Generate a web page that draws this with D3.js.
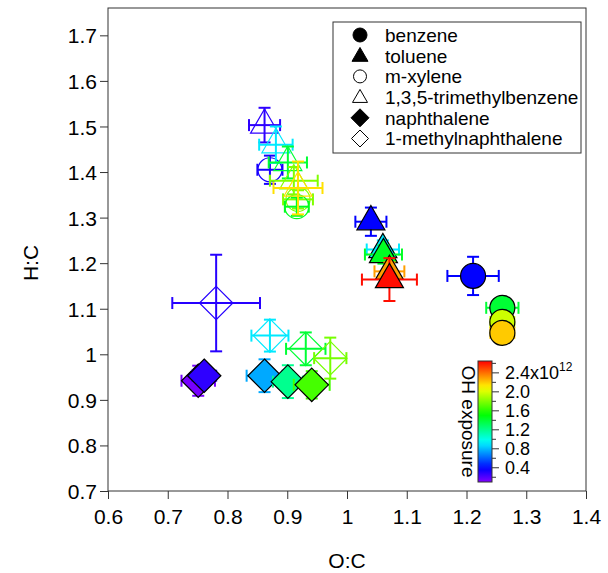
<!DOCTYPE html>
<html>
<head>
<meta charset="utf-8">
<script src="https://cdn.jsdelivr.net/npm/d3@7"></script>
<style>
  body { margin: 0; background: #fff; }
  text { font-family: "Liberation Sans", Arial, sans-serif; fill: #000; }
</style>
</head>
<body>
<div id="chart"></div>
<script>
// values: O:C, H:C, error (+/-), OH exposure (x10^12)
const benzOC = [1.211, 1.260, 1.260, 1.260];
const benzHC = [1.172, 1.102, 1.071, 1.047];
const benzXe = [0.043, 0.027, 0.02, 0.02];
const benzYe = [0.042, 0.01, 0.01, 0.01];
const benzOH = [0.38, 1.4, 1.97, 2.2];

const tolOC = [1.040, 1.060, 1.061, 1.071, 1.071];
const tolHC = [1.291, 1.230, 1.219, 1.182, 1.164];
const tolXe = [0.026, 0.027, 0.031, 0.025, 0.046];
const tolYe = [0.031, 0.02, 0.02, 0.02, 0.047];
const tolOH = [0.38, 0.9, 1.44, 2.3, 2.62];

const xylOC = [0.871, 0.918, 0.916];
const xylHC = [1.405, 1.340, 1.324];
const xylXe = [0.021, 0.025, 0.02];
const xylYe = [0.031, 0.02, 0.02];
const xylOH = [0.33, 1.8, 1.45];

const tmbOC = [0.862, 0.881, 0.901, 0.911, 0.918];
const tmbHC = [1.503, 1.460, 1.421, 1.381, 1.365];
const tmbXe = [0.026, 0.028, 0.032, 0.04, 0.041];
const tmbYe = [0.038, 0.04, 0.035, 0.03, 0.058];
const tmbOH = [0.28, 0.9, 1.4, 1.8, 2.15];

const naphOC = [0.751, 0.761, 0.862, 0.901, 0.941];
const naphHC = [0.942, 0.953, 0.953, 0.940, 0.933];
const naphXe = [0.028, 0.02, 0.03, 0.025, 0.03];
const naphYe = [0.033, 0.02, 0.036, 0.036, 0.03];
const naphOH = [0.12, 0.28, 0.76, 1.2, 1.67];

const mnOC = [0.781, 0.871, 0.931, 0.972];
const mnHC = [1.1125, 1.041, 1.012, 0.9916];
const mnXe = [0.0734, 0.031, 0.033, 0.027];
const mnYe = [0.106, 0.035, 0.036, 0.045];
const mnOH = [0.3, 0.9, 1.4, 1.78];

const xTicks = [0.6, 0.7, 0.8, 0.9, 1, 1.1, 1.2, 1.3, 1.4];
const yTicks = [0.7, 0.8, 0.9, 1, 1.1, 1.2, 1.3, 1.4, 1.5, 1.6, 1.7];
const cbMajor = [0.4, 0.8, 1.2, 1.6, 2.0, 2.4];
const cbMinor = [0.2, 0.6, 1.0, 1.4, 1.8, 2.2, 2.6];
const legendNames = ["benzene", "toluene", "m-xylene", "1,3,5-trimethylbenzene", "naphthalene", "1-methylnaphthalene"];

const width = 608, height = 573;
let plot = {left: 108, right: 586, top: 8, bottom: 491};

let svg = d3.select("#chart").append("svg")
    .attr("width", width)
    .attr("height", height);

let x = d3.scaleLinear().domain([0.6, 1.4]).range([plot.left, plot.right]);
let y = d3.scaleLinear().domain([0.7, 1.76]).range([plot.bottom, plot.top]);

// rainbow colour table, purple at low exposure to red at high
let hue = d3.scaleLinear().domain([0.1, 2.65]).range([270, 0]);
let color = v => d3.hsl(hue(v), 1, 0.5).formatHex();

function diamond(h) {
    return `M0,${-h}L${h},0L0,${h}L${-h},0Z`;
}
let shapes = {
    circle: s => d3.symbol(d3.symbolCircle, Math.PI * s * s)(),
    triangle: s => d3.symbol(d3.symbolTriangle, Math.sqrt(3) / 4 * s * s)(),
    diamond: s => diamond(s)
};

let series = [
    {oc: benzOC, hc: benzHC, xe: benzXe, ye: benzYe, oh: benzOH, shape: "circle", size: 12.5, filled: true},
    {oc: tolOC, hc: tolHC, xe: tolXe, ye: tolYe, oh: tolOH, shape: "triangle", size: 28, filled: true},
    {oc: xylOC, hc: xylHC, xe: xylXe, ye: xylYe, oh: xylOH, shape: "circle", size: 12, filled: false},
    {oc: tmbOC, hc: tmbHC, xe: tmbXe, ye: tmbYe, oh: tmbOH, shape: "triangle", size: 28, filled: false},
    {oc: naphOC, hc: naphHC, xe: naphXe, ye: naphYe, oh: naphOH, shape: "diamond", size: 16.7, filled: true},
    {oc: mnOC, hc: mnHC, xe: mnXe, ye: mnYe, oh: mnOH, shape: "diamond", size: 16.7, filled: false}
];

let marks = svg.append("g").attr("class", "marks");
let cap = 6;

series.forEach(function(s) {
    s.oc.forEach(function(oc, i) {
        let c = color(s.oh[i]);
        let cx = x(oc), cy = y(s.hc[i]);
        let g = marks.append("g");
        let x0 = x(oc - s.xe[i]), x1 = x(oc + s.xe[i]);
        let y0 = y(s.hc[i] - s.ye[i]), y1 = y(s.hc[i] + s.ye[i]);
        let bars = [
            [x0, cy, x1, cy], [cx, y0, cx, y1],
            [x0, cy - cap, x0, cy + cap], [x1, cy - cap, x1, cy + cap],
            [cx - cap, y0, cx + cap, y0], [cx - cap, y1, cx + cap, y1]
        ];
        g.selectAll("line").data(bars).enter().append("line")
            .attr("x1", d => d[0]).attr("y1", d => d[1])
            .attr("x2", d => d[2]).attr("y2", d => d[3])
            .attr("stroke", c)
            .attr("stroke-width", 2);
        g.append("path")
            .attr("d", shapes[s.shape](s.size))
            .attr("transform", `translate(${cx},${cy})`)
            .attr("fill", s.filled ? c : "none")
            .attr("stroke", s.filled ? "#000" : c)
            .attr("stroke-width", 1.2);
    });
});

// frame and axes
svg.append("rect")
    .attr("x", plot.left).attr("y", plot.top)
    .attr("width", plot.right - plot.left)
    .attr("height", plot.bottom - plot.top)
    .attr("fill", "none")
    .attr("stroke", "#333");

let fmt = d => d === 1 ? "1" : d3.format(".1f")(d);

let xAxis = svg.append("g")
    .attr("transform", `translate(0,${plot.bottom})`)
    .call(d3.axisBottom(x).tickValues(xTicks).tickSize(8).tickFormat(fmt));
let yAxis = svg.append("g")
    .attr("transform", `translate(${plot.left},0)`)
    .call(d3.axisLeft(y).tickValues(yTicks).tickSize(8).tickFormat(fmt));

[xAxis, yAxis].forEach(function(a) {
    a.select(".domain").remove();
    a.selectAll(".tick line").attr("stroke", "#333");
    a.selectAll(".tick text")
        .style("font-family", '"Liberation Sans", Arial, sans-serif')
        .style("font-size", "21px")
        .attr("fill", "#000");
});
xAxis.selectAll(".tick text").attr("dy", "1.05em");
yAxis.selectAll(".tick text").attr("x", -11).attr("dy", "0.36em");

svg.append("text")
    .attr("x", (plot.left + plot.right) / 2)
    .attr("y", 568)
    .attr("text-anchor", "middle")
    .style("font-size", "21px")
    .text("O:C");

svg.append("text")
    .attr("transform", "translate(38,263) rotate(-90)")
    .attr("text-anchor", "middle")
    .style("font-size", "21px")
    .text("H:C");

// legend
let leg = svg.append("g");
leg.append("rect")
    .attr("x", 333).attr("y", 22)
    .attr("width", 248).attr("height", 131)
    .attr("fill", "#fff")
    .attr("stroke", "#333");

let legShapes = [
    {shape: "circle", size: 7, filled: true},
    {shape: "triangle", size: 16, filled: true},
    {shape: "circle", size: 6.5, filled: false},
    {shape: "triangle", size: 15, filled: false},
    {shape: "diamond", size: 9, filled: true},
    {shape: "diamond", size: 8.5, filled: false}
];

legendNames.forEach(function(name, i) {
    let ly = 35 + i * 20.7;
    let s = legShapes[i];
    leg.append("path")
        .attr("d", shapes[s.shape](s.size))
        .attr("transform", `translate(360,${ly + (s.shape === "triangle" ? 1 : 0)})`)
        .attr("fill", s.filled ? "#000" : "#fff")
        .attr("stroke", "#000")
        .attr("stroke-width", 1);
    leg.append("text")
        .attr("x", 385)
        .attr("y", ly)
        .attr("dy", "0.36em")
        .style("font-size", "19px")
        .text(name);
});

// colour scale bar
let cb = {x: 478, w: 14, top: 361, bottom: 482};
let cbScale = d3.scaleLinear().domain([0.1, 2.65]).range([cb.bottom, cb.top]);

let grad = svg.append("defs").append("linearGradient")
    .attr("id", "rainbow")
    .attr("x1", 0).attr("y1", 1)
    .attr("x2", 0).attr("y2", 0);
d3.range(0, 1.0001, 0.05).forEach(function(t) {
    grad.append("stop")
        .attr("offset", t)
        .attr("stop-color", color(0.1 + t * 2.55));
});

svg.append("rect")
    .attr("x", cb.x).attr("y", cb.top)
    .attr("width", cb.w).attr("height", cb.bottom - cb.top)
    .attr("fill", "url(#rainbow)")
    .attr("stroke", "#333");

let cbAxis = svg.append("g")
    .attr("transform", `translate(${cb.x + cb.w},0)`);
cbAxis.selectAll(".minor").data(cbMinor).enter().append("line")
    .attr("x1", 0).attr("x2", 4)
    .attr("y1", d => cbScale(d)).attr("y2", d => cbScale(d))
    .attr("stroke", "#333");
cbAxis.selectAll(".major").data(cbMajor).enter().append("line")
    .attr("x1", 0).attr("x2", 7)
    .attr("y1", d => cbScale(d)).attr("y2", d => cbScale(d))
    .attr("stroke", "#333");
let cbLab = cbAxis.selectAll(".lab").data(cbMajor).enter().append("text")
    .attr("x", 13)
    .attr("y", d => cbScale(d))
    .attr("dy", "0.36em")
    .style("font-size", "18px");
cbLab.append("tspan").text(d => d3.format(".1f")(d));
cbLab.filter(d => d === 2.4).append("tspan").text("x10");
cbLab.filter(d => d === 2.4).append("tspan")
    .attr("dy", "-0.7em")
    .style("font-size", "12px")
    .text("12");

svg.append("text")
    .attr("transform", `translate(462,${(cb.top + cb.bottom) / 2}) rotate(90)`)
    .attr("text-anchor", "middle")
    .style("font-size", "19px")
    .text("OH exposure");
</script>
</body>
</html>
